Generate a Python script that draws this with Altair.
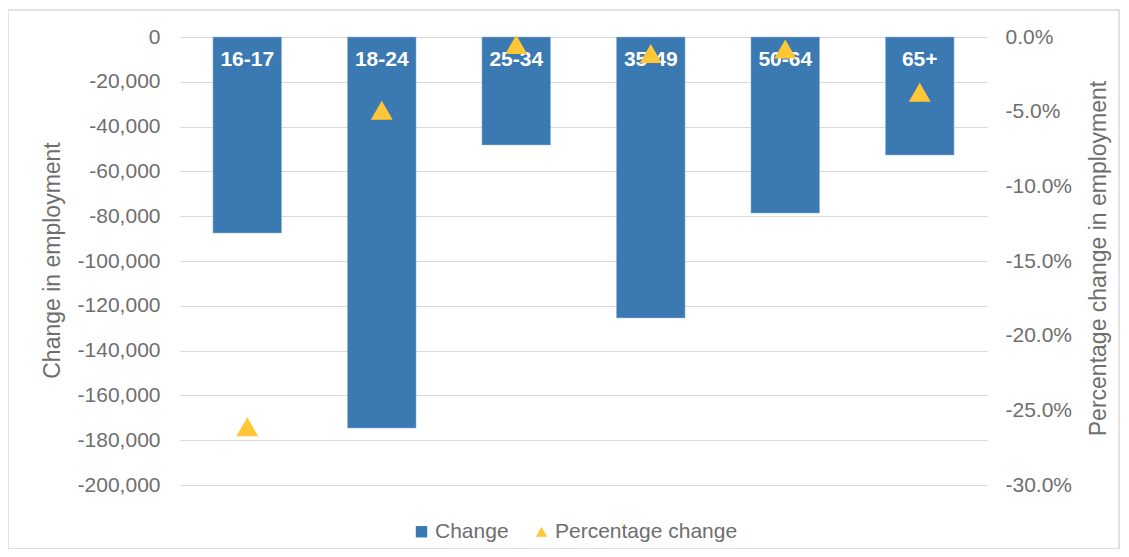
import altair as alt
import pandas as pd

ages = ["16-17", "18-24", "25-34", "35-49", "50-64", "65+"]
change = [-87500, -174600, -48200, -125400, -78600, -52700]
pct = [-0.261, -0.049, -0.005, -0.011, -0.008, -0.037]
left_ticks = [-200000, -180000, -160000, -140000, -120000, -100000, -80000, -60000, -40000, -20000, 0]
right_ticks = [-0.30, -0.25, -0.20, -0.15, -0.10, -0.05, 0.0]
series_domain = ["Change", "Percentage change"]

df = pd.DataFrame({"age": ages, "change": change, "pct": pct})
frame = pd.DataFrame({"k": [0]})

GRAY = "#6e6e6e"
FONT = "Liberation Sans"
FS = 21
TFS = 23
BAR = "#3A79B1"
TRI = "#FFC736"
MINUS = "replace(datum.label, '\u2212', '-')"

x = alt.X("age:N", sort=ages, axis=None,
          scale=alt.Scale(paddingInner=0.49, paddingOuter=0.245))

color_scale = alt.Scale(domain=series_domain, range=[BAR, TRI])
shape_scale = alt.Scale(domain=series_domain, range=["square", "triangle-up"])
left_scale = alt.Scale(domain=[-200000, 0], nice=False)


def legend():
    return alt.Legend(title=None, orient="none", legendX=231, legendY=484,
                      direction="horizontal", labelFont=FONT, labelFontSize=FS,
                      labelColor=GRAY, symbolSize=130, labelOffset=3, labelLimit=400,
                      columnPadding=22, symbolStrokeWidth=0)


def left_axis():
    return alt.Axis(values=left_ticks, format=",d", labelExpr=MINUS,
                    title="Change in employment", grid=True, ticks=False,
                    domain=False, labelPadding=20, titleX=-128, titleY=223,
                    titleAngle=-90, titleBaseline="middle",
                    gridColor="#d9d9d9", gridWidth=1.2)


bars = alt.Chart(df).transform_calculate(series="'Change'").mark_bar(
    stroke="#9dbbd9", strokeWidth=0.5
).encode(
    x=x,
    y=alt.Y("change:Q", scale=left_scale, axis=left_axis()),
    color=alt.Color("series:N", scale=color_scale, legend=legend()),
)

labels = alt.Chart(df).mark_text(
    color="white", fontWeight="bold", font=FONT, fontSize=FS,
    baseline="middle", dy=23
).encode(
    x=x,
    y=alt.YDatum(0, scale=left_scale, axis=left_axis()),
    text="age:N",
)

border = alt.Chart(frame).mark_rect(
    fillOpacity=0, stroke="#d9d9d9", strokeWidth=1.5
).encode(
    x=alt.value(-172), x2=alt.value(939), y=alt.value(-27), y2=alt.value(512)
)

left = alt.layer(bars, labels)

points = alt.Chart(df).transform_calculate(series="'Percentage change'").mark_point(
    filled=True, size=480, opacity=1
).encode(
    x=x,
    y=alt.Y("pct:Q", scale=alt.Scale(domain=[-0.30, 0], nice=False),
            axis=alt.Axis(orient="right", values=right_ticks, format=".1%",
                          labelExpr=MINUS, title="Percentage change in employment",
                          grid=False, ticks=False, domain=False, labelPadding=18,
                          titleX=111, titleY=221, titleAngle=-90,
                          titleBaseline="middle")),
    color=alt.Color("series:N", scale=color_scale, legend=legend()),
    shape=alt.Shape("series:N", scale=shape_scale, legend=legend()),
)

chart = alt.layer(border, left, points).resolve_scale(y="independent").properties(
    width=807, height=448,
    padding={"left": 172, "top": 29, "right": 134, "bottom": 64},
    autosize=alt.AutoSizeParams(type="none"),
).configure_view(stroke=None).configure_axis(
    labelFont=FONT, labelFontSize=FS, labelColor=GRAY,
    titleFont=FONT, titleFontSize=TFS, titleColor=GRAY, titleFontWeight="normal",
)

chart.save("out.html", embed_options={"renderer": "svg", "actions": False})
